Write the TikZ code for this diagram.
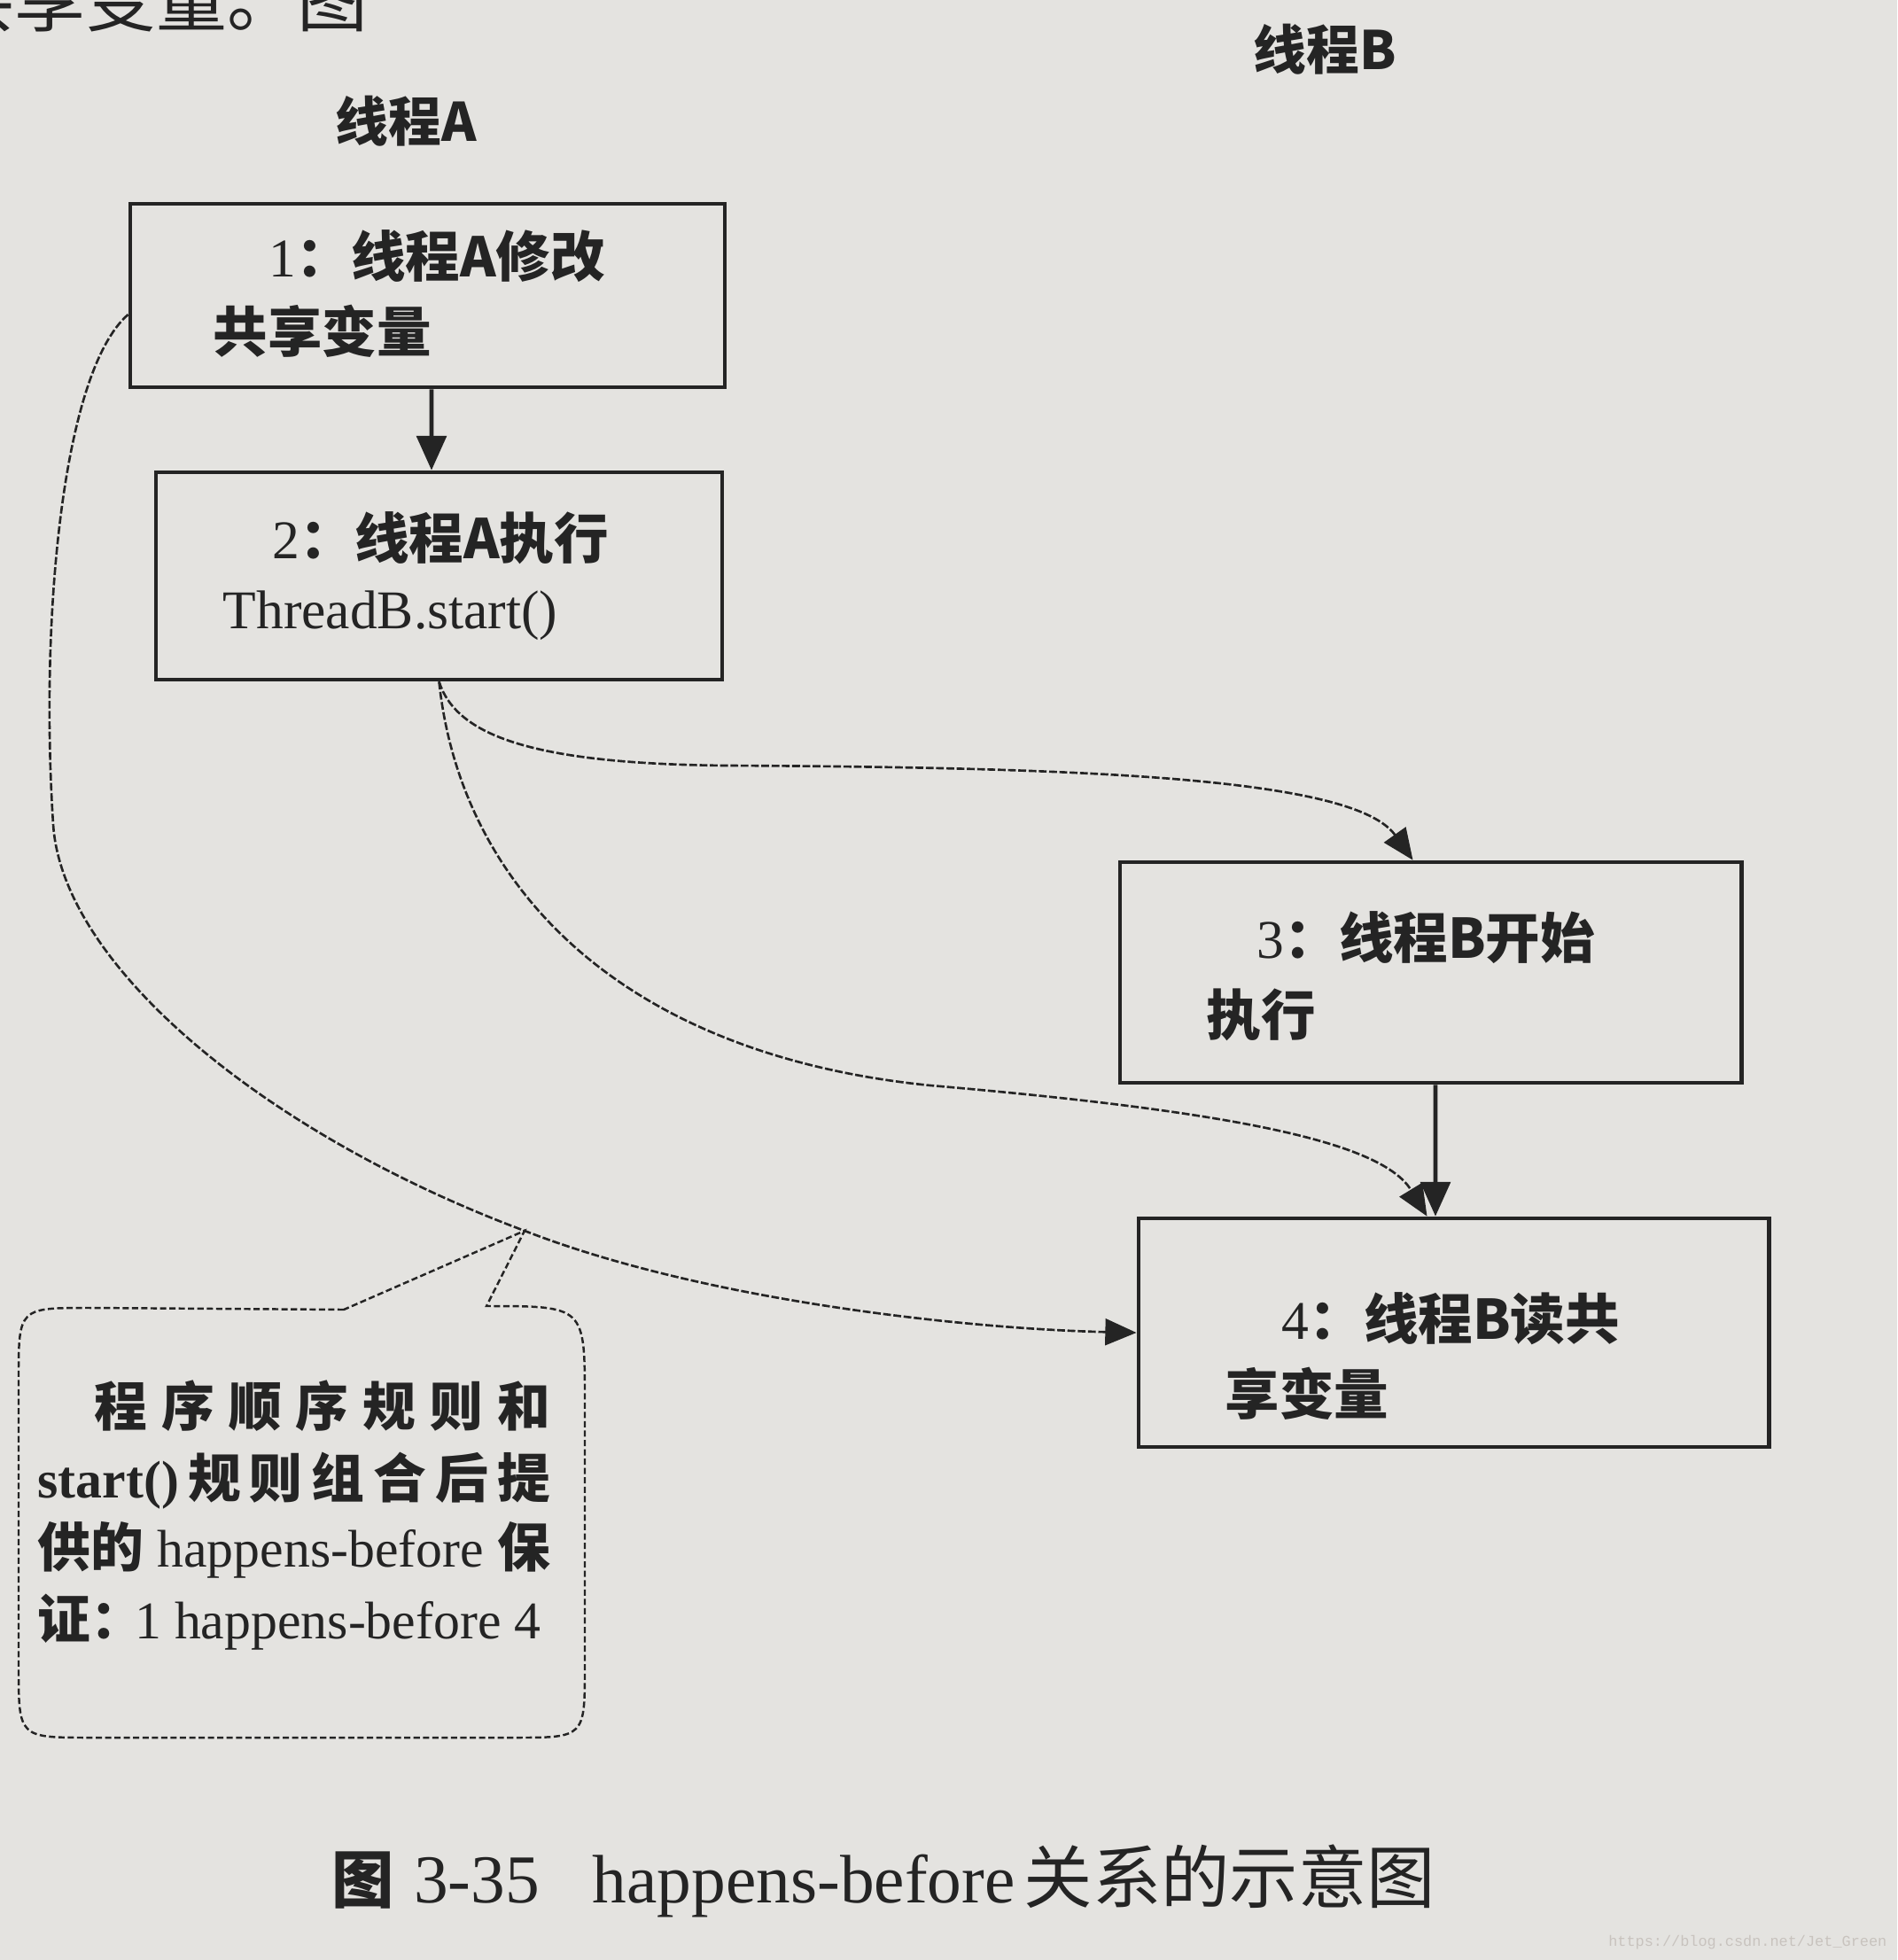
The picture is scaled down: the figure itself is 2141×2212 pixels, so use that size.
\documentclass[tikz,border=0pt]{standalone}
\usepackage{fontspec}
\setmainfont{Liberation Serif}
\newfontfamily\cjk{Noto Sans CJK SC}
\newfontfamily\lat{Liberation Serif}
\newfontfamily\mono{Liberation Mono}
\usetikzlibrary{arrows.meta}
\definecolor{paper}{RGB}{228,227,224}
\definecolor{inkc}{RGB}{36,36,36}
\definecolor{wm}{RGB}{200,195,190}
\begin{document}
\begin{tikzpicture}[x=0.01cm,y=-0.01cm,
  stepbox/.style={draw=inkc, line width=1.3pt, rectangle, inner sep=0pt},
  solidarrow/.style={draw=inkc, line width=1.3pt, -{Triangle[length=11pt,width=9.5pt]}},
  dcurve/.style={draw=inkc, line width=0.75pt, dash pattern=on 2.5pt off 0.8pt, -{Triangle[length=10pt,width=8.5pt]}},
  calloutline/.style={draw=inkc, line width=0.7pt, dash pattern=on 2pt off 1pt},
  btext/.style={inner sep=0pt, anchor=west, text=inkc, font=\cjk\bfseries\fontsize{17.5pt}{21pt}\selectfont},
  ctext/.style={inner sep=0pt, anchor=west, text=inkc, font=\cjk\bfseries\fontsize{17pt}{20pt}\selectfont},
  lbl/.style={inner sep=0pt, text=inkc, font=\cjk\bfseries\fontsize{17pt}{20pt}\selectfont}
]
\useasboundingbox (0,0) rectangle (2141,2212);
\fill[paper] (0,0) rectangle (2141,2212);

% fragment of body text at the top edge (cut by the page edge as in the photo)
\node[inner sep=0pt, anchor=base west, text=inkc, font=\cjk\fontsize{22.7pt}{26pt}\selectfont] (frag) at (-64,30) {共享变量。图};

% thread labels
\node[lbl] (la) at (458,137) {线程A};
\node[lbl] (lb) at (1495,56) {线程B};

% boxes
\node[stepbox, minimum width=6.71cm, minimum height=2.07cm] (b1) at (482.5,333.5) {};
\node[stepbox, minimum width=6.39cm, minimum height=2.34cm] (b2) at (495.5,650) {};
\node[stepbox, minimum width=7.01cm, minimum height=2.49cm] (b3) at (1614.5,1097.5) {};
\node[stepbox, minimum width=7.11cm, minimum height=2.58cm] (b4) at (1640.5,1504) {};

% box texts
\node[btext] (t1a) at (303,289) {{\lat\mdseries 1}：线程A修改};
\node[btext] (t1b) at (240,374) {共享变量};
\node[btext] (t2a) at (307,607) {{\lat\mdseries 2}：线程A执行};
\node[btext] (t2b) at (251,695) {{\lat\mdseries ThreadB.start()}};
\node[btext] (t3a) at (1418,1058) {{\lat\mdseries 3}：线程B开始};
\node[btext] (t3b) at (1361,1145) {执行};
\node[btext] (t4a) at (1446,1488) {{\lat\mdseries 4}：线程B读共};
\node[btext] (t4b) at (1382,1573) {享变量};

% solid arrows
\draw[solidarrow] ([xshift=0.045cm]b1.south) -- ([xshift=-0.085cm]b2.north);
\draw[solidarrow] ([xshift=0.055cm]b3.south) -- ([xshift=-0.205cm]b4.north);

% dashed curves
\draw[dcurve] (b2.south) .. controls (515,830) and (600,862) .. (820,864)
  .. controls (1250,866) and (1530,880) .. ([xshift=-0.2cm]b3.north);
\draw[dcurve] (b2.south) .. controls (520,1000) and (700,1190) .. (1050,1225)
  .. controls (1400,1255) and (1560,1290) .. ([xshift=-0.3cm]b4.north);
\coordinate (tip) at (592,1389);
\draw[dcurve] ([yshift=-0.215cm]b1.west) .. controls (70,420) and (45,700) .. (60,930)
  .. controls (70,1090) and (300,1280) .. (tip)
  .. controls (800,1470) and (1100,1500) .. (b4.west);

% callout
\draw[calloutline] (388,1478) -- (101,1476) .. controls (21,1476) .. (21,1556)
  -- (21,1881) .. controls (21,1961) .. (101,1961)
  -- (580,1961) .. controls (660,1961) .. (660,1881)
  -- (660,1580) .. controls (660,1474) .. (549,1474)
  -- (tip) -- cycle;
\node[ctext] (c1) at (106,1587) {\makebox[5.14cm]{程\hfill 序\hfill 顺\hfill 序\hfill 规\hfill 则\hfill 和}};
\node[ctext] (c2) at (42,1671) {\makebox[5.78cm]{{\lat\bfseries start()}\hfill 规\hfill 则\hfill 组\hfill 合\hfill 后\hfill 提}};
\node[ctext] (c3) at (42,1749) {\makebox[5.78cm]{供的\hfill{\lat\mdseries happens-before}\hfill 保}};
\node[ctext] (c4) at (42,1831) {证：\hspace{-0.1cm}{\lat\mdseries 1 happens-before 4}};

% caption
\node[inner sep=0pt, anchor=west, text=inkc, font=\cjk\fontsize{22pt}{26pt}\selectfont] (cap) at (374,2123)
  {{\bfseries\fontsize{20pt}{24pt}\selectfont 图}\hspace{0.22cm}{\lat 3-35}\hspace{0.6cm}{\lat happens-before}\hspace{0.1cm}关系的示意图};

% watermark
\node[inner sep=0pt, anchor=east, text=wm, font=\mono\fontsize{4.8pt}{6pt}\selectfont] (wmk) at (2130,2192) {https://blog.csdn.net/Jet\_Green};
\end{tikzpicture}
\end{document}
